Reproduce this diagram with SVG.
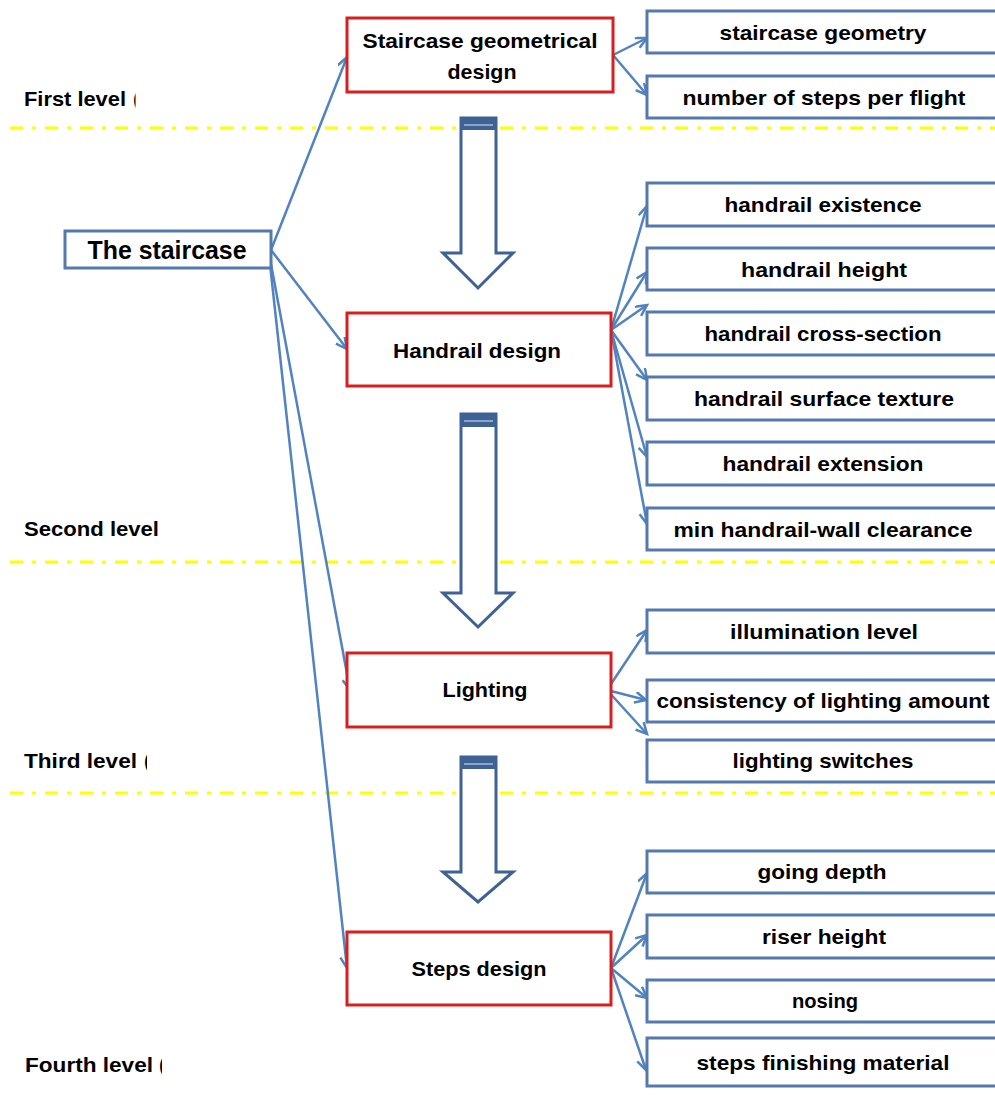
<svg xmlns="http://www.w3.org/2000/svg" width="995" height="1095" viewBox="0 0 995 1095">
  <style>
    text { font-family: "Liberation Sans", Arial, sans-serif; font-weight: bold; fill: #000; }
    .lvl { font-size: 21px; }
    .main { font-size: 21px; text-anchor: middle; }
    .leaf { font-size: 21px; text-anchor: middle; }
    .root { font-size: 25px; text-anchor: middle; }
    .redbox { fill: #fff; stroke: #DA1E1E; stroke-width: 3; }
    .bluebox { fill: #fff; stroke: #5479AD; stroke-width: 3; }
    .sep { stroke: #FFFF00; stroke-width: 3; stroke-dasharray: 13 9 4 9; fill: none; }
    .conn { stroke: #5283C1; stroke-width: 2.5; fill: none; marker-end: url(#open); }
    .big { fill: #fff; stroke: #3E6293; stroke-width: 3; stroke-linejoin: miter; }
    .cap { fill: #3E6293; }
    .capline { stroke: #A8BCD8; stroke-width: 1.5; }
  </style>
  <defs>
    <marker id="open" markerUnits="userSpaceOnUse" markerWidth="16" markerHeight="16" refX="12" refY="6" orient="auto">
      <path d="M1,0.5 L12,6 L1,11.5" fill="none" stroke="#5283C1" stroke-width="2.5"/>
    </marker>
    <!-- the trailing brackets of the level labels are cut by the text frame -->
    <clipPath id="clipL1"><rect x="0" y="80" width="135.5" height="40"/></clipPath>
    <clipPath id="clipL3"><rect x="0" y="740" width="147" height="40"/></clipPath>
    <clipPath id="clipL4"><rect x="0" y="1040" width="162" height="45"/></clipPath>
  </defs>
  <rect width="995" height="1095" fill="#fff"/>

  <!-- level separators -->
  <g id="separators">
    <line class="sep" x1="10" y1="128" x2="995" y2="128"/>
    <line class="sep" x1="10" y1="562" x2="995" y2="562"/>
    <line class="sep" x1="10" y1="793" x2="995" y2="793"/>
  </g>

  <!-- level labels -->
  <g id="levels">
    <g clip-path="url(#clipL1)">
      <text class="lvl" x="24" y="106" textLength="102" lengthAdjust="spacingAndGlyphs">First level</text>
      <text class="lvl" x="133" y="106">(</text>
    </g>
    <text class="lvl" x="24" y="536" textLength="135" lengthAdjust="spacingAndGlyphs">Second level</text>
    <g clip-path="url(#clipL3)">
      <text class="lvl" x="24" y="768" textLength="113" lengthAdjust="spacingAndGlyphs">Third level</text>
      <text class="lvl" x="144" y="768">(</text>
    </g>
    <g clip-path="url(#clipL4)">
      <text class="lvl" x="25" y="1072" textLength="128" lengthAdjust="spacingAndGlyphs">Fourth level</text>
      <text class="lvl" x="159" y="1072">(</text>
    </g>
  </g>

  <!-- block arrows between levels -->
  <g id="flow-arrows">
    <g id="arrow1">
      <path class="big" d="M461,118 H496 V253 H513 L478,288 L443,253 H461 Z"/>
      <rect class="cap" x="461" y="117" width="35" height="13"/>
      <line class="capline" x1="464" y1="125" x2="493" y2="125"/>
    </g>
    <g id="arrow2">
      <path class="big" d="M461,414 H496 V593 H513 L478,627 L443,593 H461 Z"/>
      <rect class="cap" x="461" y="413" width="35" height="14"/>
      <line class="capline" x1="464" y1="421" x2="493" y2="421"/>
    </g>
    <g id="arrow3">
      <path class="big" d="M461,757 H496 V872 H513 L478,902 L443,872 H461 Z"/>
      <rect class="cap" x="461" y="756" width="35" height="13"/>
      <line class="capline" x1="464" y1="764" x2="493" y2="764"/>
    </g>
  </g>

  <!-- connectors -->
  <g id="connectors">
    <line class="conn" x1="271" y1="250" x2="347" y2="57"/>
    <line class="conn" x1="271" y1="250" x2="347" y2="349"/>
    <line class="conn" x1="271" y1="264" x2="350" y2="690"/>
    <line class="conn" x1="270" y1="264" x2="347" y2="968"/>

    <line class="conn" x1="613" y1="55" x2="647" y2="38"/>
    <line class="conn" x1="613" y1="55" x2="647" y2="95"/>

    <line class="conn" x1="611" y1="330" x2="647" y2="206"/>
    <line class="conn" x1="611" y1="330" x2="647" y2="272"/>
    <line class="conn" x1="611" y1="330" x2="647" y2="305"/>
    <line class="conn" x1="611" y1="330" x2="647" y2="380"/>
    <line class="conn" x1="611" y1="330" x2="647" y2="457"/>
    <line class="conn" x1="611" y1="330" x2="647" y2="524"/>

    <line class="conn" x1="607" y1="690" x2="647" y2="630"/>
    <line class="conn" x1="607" y1="690" x2="646" y2="700"/>
    <line class="conn" x1="607" y1="690" x2="647" y2="734"/>

    <line class="conn" x1="611" y1="968" x2="647" y2="873"/>
    <line class="conn" x1="611" y1="968" x2="647" y2="935"/>
    <line class="conn" x1="611" y1="968" x2="647" y2="998"/>
    <line class="conn" x1="611" y1="968" x2="646" y2="1070"/>
  </g>

  <!-- root -->
  <g id="node-staircase">
    <rect class="bluebox" x="65" y="231" width="206" height="37"/>
    <text class="root" x="167" y="259" textLength="159" lengthAdjust="spacingAndGlyphs">The staircase</text>
  </g>

  <!-- second column -->
  <g id="node-geometrical">
    <rect class="redbox" x="347" y="18" width="266" height="74"/>
    <text class="main" x="480" y="48" textLength="235" lengthAdjust="spacingAndGlyphs">Staircase geometrical</text>
    <text class="main" x="482" y="79" textLength="69" lengthAdjust="spacingAndGlyphs">design</text>
  </g>
  <g id="node-handrail">
    <rect class="redbox" x="347" y="313" width="264" height="73"/>
    <text class="main" x="477" y="358" textLength="168" lengthAdjust="spacingAndGlyphs">Handrail design</text>
  </g>
  <g id="node-lighting">
    <rect class="redbox" x="347" y="653" width="264" height="74"/>
    <text class="main" x="485" y="697" textLength="85" lengthAdjust="spacingAndGlyphs">Lighting</text>
  </g>
  <g id="node-steps">
    <rect class="redbox" x="347" y="932" width="264" height="73"/>
    <text class="main" x="479" y="976" textLength="135" lengthAdjust="spacingAndGlyphs">Steps design</text>
  </g>

  <!-- leaves -->
  <g id="leaf-geometry">
    <rect class="bluebox" x="647" y="11" width="355" height="42"/>
    <text class="leaf" x="823" y="40" textLength="207" lengthAdjust="spacingAndGlyphs">staircase geometry</text>
  </g>
  <g id="leaf-steps-per-flight">
    <rect class="bluebox" x="647" y="76" width="355" height="42"/>
    <text class="leaf" x="824" y="105" textLength="283" lengthAdjust="spacingAndGlyphs">number of steps per flight</text>
  </g>
  <g id="leaf-existence">
    <rect class="bluebox" x="647" y="183" width="355" height="43"/>
    <text class="leaf" x="823" y="212" textLength="197" lengthAdjust="spacingAndGlyphs">handrail existence</text>
  </g>
  <g id="leaf-height">
    <rect class="bluebox" x="647" y="248" width="355" height="42"/>
    <text class="leaf" x="824" y="277" textLength="166" lengthAdjust="spacingAndGlyphs">handrail height</text>
  </g>
  <g id="leaf-cross-section">
    <rect class="bluebox" x="647" y="312" width="355" height="43"/>
    <text class="leaf" x="823" y="341" textLength="237" lengthAdjust="spacingAndGlyphs">handrail cross-section</text>
  </g>
  <g id="leaf-texture">
    <rect class="bluebox" x="647" y="377" width="355" height="43"/>
    <text class="leaf" x="824" y="406" textLength="260" lengthAdjust="spacingAndGlyphs">handrail surface texture</text>
  </g>
  <g id="leaf-extension">
    <rect class="bluebox" x="647" y="442" width="355" height="43"/>
    <text class="leaf" x="823" y="471" textLength="201" lengthAdjust="spacingAndGlyphs">handrail extension</text>
  </g>
  <g id="leaf-clearance">
    <rect class="bluebox" x="647" y="508" width="355" height="42"/>
    <text class="leaf" x="823" y="537" textLength="299" lengthAdjust="spacingAndGlyphs">min handrail-wall clearance</text>
  </g>
  <g id="leaf-illumination">
    <rect class="bluebox" x="647" y="610" width="355" height="43"/>
    <text class="leaf" x="824" y="639" textLength="188" lengthAdjust="spacingAndGlyphs">illumination level</text>
  </g>
  <g id="leaf-consistency">
    <rect class="bluebox" x="647" y="680" width="355" height="42"/>
    <text class="leaf" x="823" y="708" textLength="333" lengthAdjust="spacingAndGlyphs">consistency of lighting amount</text>
  </g>
  <g id="leaf-switches">
    <rect class="bluebox" x="647" y="740" width="355" height="42"/>
    <text class="leaf" x="823" y="768" textLength="181" lengthAdjust="spacingAndGlyphs">lighting switches</text>
  </g>
  <g id="leaf-going">
    <rect class="bluebox" x="647" y="851" width="355" height="42"/>
    <text class="leaf" x="822" y="879" textLength="129" lengthAdjust="spacingAndGlyphs">going depth</text>
  </g>
  <g id="leaf-riser">
    <rect class="bluebox" x="647" y="915" width="355" height="43"/>
    <text class="leaf" x="824" y="944" textLength="124" lengthAdjust="spacingAndGlyphs">riser height</text>
  </g>
  <g id="leaf-nosing">
    <rect class="bluebox" x="647" y="980" width="355" height="42"/>
    <text class="leaf" x="825" y="1008" textLength="66" lengthAdjust="spacingAndGlyphs">nosing</text>
  </g>
  <g id="leaf-finishing">
    <rect class="bluebox" x="647" y="1038" width="355" height="48"/>
    <text class="leaf" x="823" y="1070" textLength="253" lengthAdjust="spacingAndGlyphs">steps finishing material</text>
  </g>
</svg>
